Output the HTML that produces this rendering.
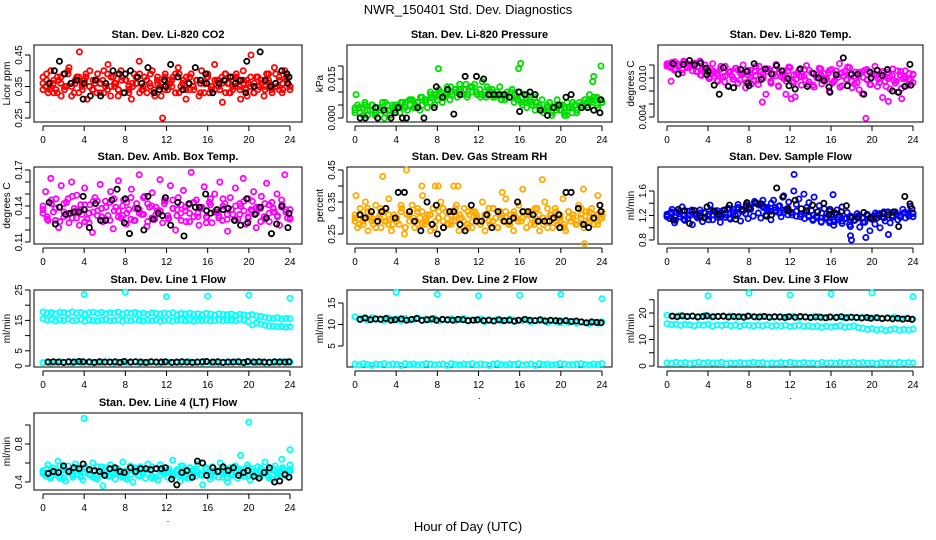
<!DOCTYPE html>
<html><head><meta charset="utf-8"><style>
html,body{margin:0;padding:0;background:#fff;}
svg{display:block;font-family:"Liberation Sans",Arial,sans-serif;}
</style></head><body>
<svg id="chart" width="936" height="540" viewBox="0 0 936 540" xmlns="http://www.w3.org/2000/svg">
<rect x="0" y="0" width="936" height="540" fill="#fff"/>
<text x="468" y="14" text-anchor="middle" font-size="13">NWR_150401  Std. Dev. Diagnostics</text>
<text x="468" y="531" text-anchor="middle" font-size="13">Hour of Day (UTC)</text>
</svg>
<script>
// ---------- data ----------
const xTicks = [0,4,8,12,16,20,24];
const co2Vals = [.38,.35,.33,.40,.36,.34,.37,.32,.39,.35,.41,.36,.33,.38,.46,.35,.37,.31,.40,.34,.36,.39,.33,.37,.35,.42,.32,.38,.36,.34,.40,.33,.37,.35,.31,.39,.36,.43,.34,.38,.33,.36,.40,.32,.37,.35,.25,.39,.34,.36,.38,.33,.41,.35,.37,.31,.36,.39,.34,.37,.32,.40,.36,.38,.33,.35,.42,.37,.34,.30,.39,.36,.33,.38,.35,.37,.31,.40,.34,.36,.45,.33,.38,.35,.37,.32,.39,.36,.34,.41,.35,.37,.33,.40,.36,.34];
const co2ValsB = [.36,.39,.34,.37,.33,.38,.35,.40,.32,.36,.38,.34,.39,.35,.37,.33,.36,.40,.34,.38,.35,.32,.37,.39,.34,.36,.38,.33,.35,.37,.39,.34,.36,.32,.38,.35,.37,.33,.39,.36,.34,.38,.35,.37,.33,.36,.39,.34,.37,.35,.38,.33,.36,.34,.39,.35,.37,.32,.38,.36,.34,.37,.35,.39,.33,.36,.38,.34,.37,.35];
const co2ValsC = [.34,.37,.35,.33,.38,.36,.34,.39,.35,.37,.33,.36,.38,.35,.34,.37,.36,.33,.39,.35,.36,.34,.38,.37,.33,.35,.36,.39,.34,.37,.35,.33,.38,.36,.34,.37,.35,.39,.33,.36,.38,.34,.35,.37,.36,.33,.38,.35,.34,.37,.36,.39,.33,.35,.38,.34,.36,.37,.35,.33,.38,.36,.34,.37,.35,.39,.34,.36,.38,.35];
const co2BlkHrs = [.6,1.1,1.6,2.1,2.7,3.3,3.9,4,4.6,5.1,5.6,6.1,6.8,7.4,7.9,8,8.5,9.2,9.6,10.2,10.8,11.3,11.8,11.9,12.4,13.1,13.6,14.2,14.8,15.3,15.8,15.9,16.5,17.1,17.6,18.2,18.7,19.2,19.7,19.8,20.5,21.1,21.6,22.1,22.6,23.2,23.7,23.8,23.9];
const co2BlkVals = [.36,.40,.43,.39,.36,.37,.31,.36,.32,.37,.32,.36,.40,.39,.33,.39,.40,.38,.36,.41,.33,.34,.37,.35,.42,.38,.34,.36,.41,.37,.39,.36,.33,.36,.37,.38,.36,.37,.33,.43,.35,.46,.37,.35,.36,.40,.39,.36,.38];

const pressVals = [.003,.005,.002,.004,.006,.001,.003,.005,.002,.004,.003,.006,.002,.005,.001,.004,.003,.005,.002,.006,.004,.003,.005,.007,.004,.006,.003,.005,.007,.004,.006,.008,.005,.007,.009,.006,.008,.010,.007,.009,.011,.008,.010,.009,.011,.008,.012,.010,.013,.009,.011,.014,.010,.012,.009,.011,.008,.010,.012,.009,.007,.010,.008,.011,.009,.007,.010,.008,.006,.009,.007,.005,.008,.006,.004,.007,.003,.005,.006,.002,.004,.007,.003,.005,.001,.006,.004,.002,.005,.003,.006,.004,.007,.005,.009,.006,.008,.005,.007,.006];
const pressValsB = [.002,.004,.001,.003,.005,.002,.004,.000,.003,.005,.004,.006,.005,.007,.004,.006,.008,.007,.010,.009,.011,.008,.012,.010,.011,.013,.011,.009,.012,.010,.008,.009,.011,.008,.010,.007,.009,.008,.006,.007,.005,.004,.006,.003,.005,.002,.004,.001,.003,.005,.002,.004,.006,.003,.005,.007,.006,.008,.004,.006];
const pressValsC = [.004,.002,.005,.003,.001,.004,.006,.003,.005,.004,.006,.007,.005,.008,.006,.009,.008,.010,.009,.012,.010,.011,.013,.012,.010,.009,.008,.010,.009,.007,.008,.010,.008,.006,.007,.005,.006,.003,.004,.002,.005,.003,.001,.004,.002,.005,.006,.007,.008,.006];
const pressOutHrs = [0.1,8.1,15.9,16.1,23.9,10.2,23.1,23.2];
const pressOutVals = [.009,.019,.019,.021,.020,.013,.014,.016];
const pressBlkHrs = [.5,1,2,2.2,2.8,3.5,3.9,4.2,4.6,5,6.1,6.7,7.7,7.9,8.5,9,9.6,10.2,10.7,11.8,12.5,13,13.5,14,14.5,15,15.9,16,16.5,17,17.5,18,18.7,19.3,19.8,20.5,21,22,22.6,23.2,23.8,23.9];
const pressBlkVals = [0,0,.004,0,.003,0,.002,.004,0,0,.004,0,.004,.012,.008,.011,.0015,.009,.016,.016,.015,.009,.009,.009,.009,.008,.010,.0025,.009,.010,.009,.003,.001,.004,.005,.008,.009,.004,.004,.003,.002,.007];

const tempVals = [.0120,.0118,.0124,.0112,.0122,.0119,.0108,.0125,.0116,.0121,.0111,.0123,.0117,.0126,.0113,.0120,.0115,.0101,.0122,.0108,.0095,.0113,.0102,.0118,.0088,.0110,.0098,.0115,.0092,.0107,.0120,.0085,.0104,.0112,.0096,.0118,.0090,.0109,.0100,.0075,.0114,.0093,.0106,.0121,.0087,.0102,.0111,.0095,.0117,.0068,.0105,.0098,.0112,.0089,.0103,.0119,.0094,.0108,.0086,.0101,.0115,.0091,.0107,.0099,.0080,.0113,.0096,.0104,.0122,.0088,.0110,.0097,.0116,.0085,.0103,.0093,.0109,.0076,.0112,.0098,.0090,.0106,.0118,.0087,.0101,.0070,.0095,.0109,.0083,.0114,.0092,.0078,.0104,.0099,.0111,.0089,.0097,.0106];
const tempValsB = [.0122,.0116,.0125,.0119,.0113,.0123,.0117,.0121,.0110,.0104,.0115,.0099,.0111,.0106,.0118,.0094,.0109,.0102,.0115,.0097,.0107,.0112,.0091,.0104,.0118,.0100,.0110,.0095,.0113,.0088,.0106,.0101,.0116,.0093,.0108,.0103,.0097,.0112,.0089,.0105,.0114,.0099,.0108,.0092,.0111,.0086,.0103,.0117,.0095,.0109,.0082,.0101,.0113,.0090,.0106,.0098,.0110,.0087,.0102,.0096,.0111,.0084,.0099,.0107,.0093];
const tempValsC = [.0118,.0123,.0114,.0120,.0126,.0117,.0122,.0110,.0105,.0112,.0100,.0108,.0096,.0114,.0103,.0109,.0098,.0112,.0105,.0093,.0101,.0110,.0097,.0106,.0114,.0092,.0103,.0108,.0099,.0111,.0095,.0105,.0102,.0113,.0090,.0107,.0100,.0104,.0096,.0112,.0094,.0101,.0108,.0098,.0105,.0091,.0103,.0110,.0097,.0100,.0106,.0093,.0108,.0099,.0104,.0095,.0110,.0102,.0098,.0105];
const tempOutHrs = [19.4,9.3,0.4,12.5,11.6,21.6,22.9];
const tempOutVals = [.0038,.0063,.0095,.0071,.0075,.0064,.0068];
const tempBlkHrs = [.6,1.1,1.6,2.2,2.7,3.3,3.8,3.9,4,4.6,5.1,5.5,6,6.5,7.2,7.8,7.9,8,8.5,9.2,9.6,10.2,10.7,11.2,11.8,11.9,12.5,13,13.7,14.3,14.8,15.3,15.8,15.9,16.5,17.2,17.6,18,18.6,19.2,19.8,19.9,20.5,21,21.5,22,22.6,23.2,23.7,23.8];
const tempBlkVals = [.0122,.0106,.0121,.0127,.0120,.0123,.0115,.0105,.0110,.0089,.0075,.0116,.0087,.0085,.0113,.0110,.0092,.0088,.0122,.0098,.0114,.0106,.0119,.0111,.0099,.0088,.0083,.0114,.0087,.0107,.0100,.0096,.0086,.0078,.0105,.0131,.0088,.0106,.0106,.0075,.0109,.0100,.0112,.0104,.0113,.0080,.0078,.0087,.0121,.0089];

const ambVals = [.140,.152,.128,.163,.135,.146,.122,.157,.131,.143,.126,.160,.138,.149,.124,.133,.155,.129,.141,.118,.147,.136,.158,.127,.144,.132,.152,.121,.139,.161,.130,.145,.125,.137,.154,.128,.142,.166,.133,.148,.123,.139,.151,.129,.136,.162,.126,.144,.132,.157,.138,.120,.147,.134,.153,.127,.141,.168,.131,.145,.124,.138,.156,.130,.143,.126,.150,.135,.160,.128,.142,.119,.147,.133,.155,.129,.140,.163,.125,.146,.137,.152,.122,.139,.148,.131,.159,.127,.143,.135,.150,.124,.141,.166,.130,.137];
const ambValsB = [.134,.129,.145,.138,.127,.142,.133,.148,.130,.137,.141,.126,.135,.144,.131,.139,.128,.146,.136,.132,.143,.129,.138,.134,.147,.127,.140,.133,.136,.142,.130,.145,.137,.128,.139,.134,.143,.131,.138,.126,.141,.135,.132,.146,.129,.137,.140,.133,.144,.130,.136,.139,.127,.142,.134,.138,.131,.145,.135,.129];
const ambValsC = [.137,.131,.142,.128,.139,.135,.146,.130,.136,.141,.127,.134,.144,.132,.138,.129,.143,.136,.131,.140,.134,.147,.128,.137,.133,.142,.130,.139,.135,.145,.129,.138,.132,.141,.136,.127,.143,.134,.139,.131,.146,.135,.130,.140,.133,.137,.128,.142,.136,.131,.144,.134,.138,.129,.141,.135,.132,.139,.137,.130];
const ambBlkHrs = [.6,1.2,1.6,2.2,2.6,3,3.5,3.9,4,4.5,5.1,5.6,6.1,6.7,7.2,7.9,8,8.4,9.2,9.8,10.2,10.7,11.2,11.6,11.9,12.4,13.1,13.7,14.2,14.8,15.2,15.8,15.9,16.3,16.9,17.5,18,18.6,19.2,19.8,19.9,20.6,21.1,21.7,22.2,22.7,23.2,23.8,23.9];
const ambBlkVals = [.143,.125,.139,.133,.134,.135,.135,.148,.137,.122,.142,.128,.128,.145,.154,.126,.146,.117,.138,.120,.148,.129,.134,.132,.147,.124,.143,.115,.142,.139,.139,.150,.136,.134,.137,.137,.138,.128,.124,.146,.126,.133,.139,.130,.117,.125,.140,.122,.134];

const rhVals = [.30,.27,.33,.29,.35,.26,.31,.28,.34,.30,.27,.32,.29,.36,.26,.31,.30,.28,.33,.25,.31,.29,.34,.27,.32,.30,.37,.28,.31,.26,.33,.29,.30,.35,.27,.32,.28,.31,.29,.34,.26,.30,.33,.28,.31,.27,.32,.30,.29,.35,.26,.31,.28,.33,.30,.27,.32,.29,.36,.28,.31,.26,.30,.34,.29,.32,.27,.31,.30,.28,.33,.26,.30,.35,.29,.31,.27,.33,.28,.30,.36,.26,.32,.29,.31,.28,.34,.30,.27,.32,.29,.33,.28,.31,.30,.32];
const rhValsB = [.29,.31,.28,.32,.30,.27,.33,.29,.31,.28,.30,.32,.27,.31,.29,.33,.28,.30,.31,.27,.32,.29,.30,.28,.33,.31,.29,.27,.32,.30,.28,.31,.29,.33,.27,.30,.32,.28,.31,.29,.30,.27,.32,.29,.31,.28,.33,.30,.29,.31,.27,.32,.30,.28,.31,.29,.32,.30,.28,.31];
const rhValsC = [.31,.28,.30,.33,.29,.27,.31,.32,.28,.30,.29,.34,.27,.31,.30,.28,.32,.29,.31,.27,.30,.33,.28,.29,.31,.30,.27,.32,.29,.31,.28,.30,.33,.29,.27,.31,.30,.28,.32,.29,.30,.31,.28,.33,.29,.30,.27,.31,.32,.29,.28,.30,.31,.29,.33,.28,.30,.31,.29,.30];
const rhOutHrs = [0.1,2.7,5,6.5,7.8,8.1,9.6,10,14.3,16.3,18.2,22.2,23.6,22.3];
const rhOutVals = [.37,.43,.45,.40,.40,.40,.40,.40,.38,.39,.42,.39,.37,.22];
const rhBlkHrs = [.5,1,1.6,2.2,2.6,3,3.9,4.2,4.8,5.3,5.8,6.4,7,7.5,7.9,8,8.6,9.2,9.6,10.2,10.7,11.3,11.8,12.3,12.8,13.3,13.9,14.5,15,15.4,15.8,16.3,16.8,17.3,17.8,18.4,18.9,19.3,19.8,19.9,20.5,21,21.7,22.2,22.7,23.2,23.8,23.9];
const rhBlkVals = [.31,.30,.32,.29,.32,.33,.30,.38,.38,.32,.29,.26,.35,.28,.34,.25,.27,.32,.32,.28,.26,.34,.29,.29,.31,.27,.32,.29,.29,.30,.35,.32,.32,.31,.29,.29,.29,.30,.31,.27,.38,.38,.33,.28,.27,.30,.34,.32];

const sfVals = [1.22,1.15,1.30,1.08,1.25,1.18,1.34,1.12,1.27,1.20,1.05,1.23,1.16,1.29,1.10,1.24,1.19,1.37,1.13,1.26,1.21,1.09,1.28,1.17,1.32,1.14,1.25,1.20,1.38,1.11,1.27,1.23,1.15,1.30,1.19,1.40,1.24,1.16,1.33,1.21,1.28,1.13,1.45,1.26,1.35,1.18,1.52,1.30,1.42,1.25,1.60,1.38,1.47,1.22,1.55,1.33,1.41,1.28,1.50,1.19,1.36,1.24,1.31,1.17,1.27,1.22,1.10,1.29,1.20,1.34,1.15,1.25,1.05,1.18,1.12,1.23,1.01,1.16,1.09,1.20,0.95,1.14,1.06,1.22,1.00,1.17,1.11,1.25,1.08,1.19,1.26,1.13,1.21,1.30,1.16,1.24,1.35,1.18];
const sfValsB = [1.18,1.24,1.12,1.27,1.20,1.15,1.29,1.22,1.17,1.25,1.13,1.21,1.28,1.19,1.24,1.16,1.30,1.22,1.27,1.35,1.31,1.42,1.37,1.45,1.33,1.40,1.29,1.36,1.25,1.32,1.21,1.27,1.18,1.24,1.20,1.14,1.19,1.09,1.16,1.11,1.04,1.13,1.07,1.15,1.02,1.12,1.18,1.09,1.21,1.14,1.19,1.23,1.16,1.26,1.20,1.22,1.17,1.25,1.19,1.23];
const sfValsC = [1.20,1.26,1.17,1.23,1.14,1.21,1.27,1.19,1.24,1.16,1.22,1.28,1.18,1.25,1.21,1.31,1.26,1.33,1.28,1.38,1.34,1.43,1.39,1.36,1.30,1.27,1.33,1.24,1.29,1.21,1.25,1.19,1.22,1.15,1.18,1.12,1.16,1.10,1.14,1.08,1.13,1.17,1.11,1.15,1.19,1.13,1.20,1.16,1.22,1.18,1.24,1.20,1.26,1.21,1.17,1.23,1.19,1.25,1.21,1.24];
const sfOutHrs = [12.4,16.2,17.9,18,19.4,21.6];
const sfOutVals = [1.87,1.54,0.87,0.80,0.84,0.89];
const sfBlkHrs = [.6,1.1,1.7,2.2,2.7,3.2,3.7,3.9,4.6,5.1,5.6,6.1,6.7,7.3,7.8,8,8.7,9.2,9.7,10.2,10.7,11.3,11.8,11.9,12.5,13.1,13.6,14.2,14.7,15.3,15.8,15.9,16.4,17,17.5,18,18.6,19.2,19.8,19.9,20.5,21.1,21.6,22.1,22.6,23.2,23.7,23.9];
const sfBlkVals = [1.13,1.30,1.28,1.07,1.28,1.19,1.17,1.34,1.27,1.21,1.29,1.37,1.14,1.30,1.41,1.31,1.40,1.39,1.19,1.21,1.65,1.50,1.30,1.27,1.45,1.31,1.28,1.37,1.26,1.40,1.22,1.30,1.24,1.26,1.36,1.16,1.16,1.25,1.16,1.16,1.16,1.23,1.21,1.26,1.02,1.51,1.39,1.31];

const lineBlkHrs = [0.5,1,1.5,2,2.5,3,3.5,3.9,4.5,5,5.5,6,6.5,7,7.5,7.9,8.5,9,9.5,10,10.5,11,11.5,11.9,12.5,13,13.5,14,14.5,15,15.5,15.9,16.5,17,17.5,18,18.5,19,19.5,19.9,20.5,21,21.5,22,22.5,23,23.5,23.9];
const outHrs = [4,8,12,16,20,24];

const l1Up = [17.8,17.4,17.6,17.2,17.7,17.5,17.3,17.8,17.4,17.6,17.1,17.5,17.7,17.3,17.6,17.2,17.5,17.4,17.7,17.1,17.5,17.3,17.6,17.2,17.4,17.0,17.5,17.3,17.1,17.4,17.2,17.5,16.9,17.3,17.1,17.4,17.0,17.2,16.9,17.3,17.1,16.8,17.2,17.0,16.9,17.1,16.7,17.0,16.8,16.6,16.9,16.5,16.3,16.0,15.8,15.6,15.9,15.5,15.7,15.6];
const l1Mid = [15.5,15.1,15.3,14.8,15.2,15.0,15.4,14.9,15.1,15.3,14.7,15.2,15.0,14.8,15.1,15.3,14.9,15.0,15.2,14.7,15.1,14.9,15.3,15.0,14.8,15.1,14.9,15.2,14.7,15.0,15.1,14.8,15.0,15.2,14.9,15.1,14.7,15.0,14.9,15.1,14.8,15.0,15.2,14.9,15.1,15.0,14.8,15.4,15.1,14.6,13.5,14.2,13.8,13.4,13.2,13.1,12.9,13.0,12.8,12.9];
const l1Low = [1.1,1.3,1.0,1.2,1.4,1.1,1.2,1.0,1.3,1.1,1.2,1.4,1.0,1.2,1.1,1.3,1.2,1.0,1.1,1.3,1.2,1.1,1.4,1.0,1.2,1.1,1.3,1.2,1.0,1.1,1.3,1.2,1.1,1.0,1.2,1.4,1.1,1.2,1.0,1.3,1.1,1.2,1.0,1.1,1.3,1.2,1.4,1.1,1.0,1.2,1.3,1.1,1.2,1.0,1.3,1.1,1.2,1.4,1.1,1.2];
const l1BlkVals = [1.3,1.4,1.3,1.2,1.4,1.3,1.5,1.4,1.3,1.2,1.4,1.3,1.3,1.4,1.2,1.5,1.3,1.4,1.3,1.2,1.4,1.3,1.3,1.4,1.2,1.3,1.4,1.3,1.2,1.3,1.4,1.5,1.3,1.4,1.2,1.3,1.3,1.4,1.2,1.5,1.3,1.4,1.3,1.2,1.4,1.3,1.3,1.4];
const l1OutVals = [23.5,24.3,22.8,23.0,23.3,22.3];

const l2Low = [0.8,0.6,0.9,0.7,0.5,0.8,0.7,0.9,0.6,0.8,0.7,0.5,0.9,0.7,0.8,0.6,0.7,0.9,0.8,0.6,0.7,0.8,0.5,0.9,0.7,0.6,0.8,0.7,0.9,0.6,0.8,0.7,0.5,0.8,0.9,0.7,0.6,0.8,0.7,0.9,0.6,0.7,0.8,0.5,0.9,0.7,0.8,0.6,0.7,0.9,0.8,0.6,0.7,0.8,0.9,0.7,0.6,0.8,0.7,0.9];
const l2Up = [11.8,11.3,11.5,11.0,11.6,11.2,11.4,10.9,11.5,11.1,11.3,10.8,11.4,11.0,11.2,11.5,10.9,11.3,11.1,11.4,10.8,11.2,11.0,11.3,10.9,11.2,11.4,10.8,11.1,11.0,11.3,10.7,11.1,10.9,11.2,10.8,11.0,11.3,10.7,11.0,10.9,11.1,10.6,10.9,10.8,11.0,10.5,10.8,10.7,10.4,10.8,10.5,10.7,10.3,10.6,10.4,10.2,10.5,10.3,10.6];
const l2BlkVals = [11.2,11.5,11.1,11.3,11.2,11.4,11.0,11.1,11.3,11.0,11.2,11.4,11.0,11.1,11.3,11.0,11.2,11.1,11.0,11.2,11.1,10.9,11.0,11.1,10.9,11.0,10.8,11.1,10.9,11.0,10.8,11.0,11.2,11.0,10.9,11.1,10.8,11.0,10.9,10.8,10.9,10.7,10.8,10.6,10.4,10.6,10.5,10.4];
const l2OutVals = [17.5,17.0,16.7,16.8,17.0,16.0];

const l3Top = [19.2,18.8,19.0,18.6,18.9,18.7,19.1,18.5,18.8,18.6,18.9,18.4,18.7,18.9,18.5,18.8,18.6,18.4,18.7,18.5,18.8,18.3,18.6,18.5,18.7,18.2,18.5,18.6,18.3,18.5,18.2,18.4,18.1,18.3,18.0,18.2,18.4,17.9,18.1,17.8];
const l3Mid = [16.0,15.6,15.8,15.3,15.7,15.5,15.2,15.6,15.4,15.7,15.1,15.5,15.3,15.6,15.2,15.4,15.0,15.5,15.3,15.1,15.4,15.2,15.5,15.0,15.3,15.1,15.4,14.9,15.2,15.3,15.0,15.2,14.8,15.1,14.6,15.0,14.7,14.9,15.2,14.6,14.8,15.1,14.5,14.3,13.8,14.1,13.6,13.9,13.4,13.7,14.0,13.5,13.8,13.6,13.9];
const l3Low = [1.2,1.0,1.4,1.1,1.3,0.9,1.2,1.4,1.0,1.3,1.1,1.2,1.4,0.9,1.2,1.1,1.3,1.0,1.2,1.4,1.1,1.3,0.9,1.2,1.0,1.3,1.1,1.4,1.2,1.0,1.3,1.1,1.2,0.9,1.4,1.1,1.2,1.0,1.3,1.1,1.2,1.4,1.0,1.3,1.1,1.2,0.9,1.3,1.1,1.2,1.0,1.4,1.1,1.3,1.2];
const l3BlkVals = [18.8,18.6,18.9,18.7,18.8,18.5,18.7,18.9,18.6,18.7,18.8,18.5,18.7,18.6,18.4,18.8,18.6,18.5,18.7,18.4,18.6,18.5,18.3,18.6,18.4,18.7,18.5,18.3,18.5,18.4,18.2,18.5,18.3,18.6,18.2,18.4,18.3,18.1,18.3,18.0,18.2,17.9,18.1,17.8,18.0,17.7,17.9,17.6];
const l3OutVals = [26.5,27.5,26.8,27.2,27.6,26.2];

const l4Vals = [.52,.47,.58,.44,.55,.49,.62,.46,.53,.41,.57,.50,.45,.59,.48,.54,.42,.56,.51,.47,.60,.44,.52,.49,.36,.55,.46,.58,.50,.43,.54,.48,.61,.45,.51,.57,.40,.53,.47,.56,.49,.44,.59,.52,.46,.54,.42,.58,.50,.55,.45,.51,.63,.47,.53,.41,.57,.49,.44,.55,.52,.46,.59,.48,.37,.54,.50,.43,.56,.47,.52,.60,.45,.51,.40,.55,.48,.57,.44,.53,.50,.46,.58,.42,.54,.49,.56,.45,.51,.61,.47,.53,.43,.57,.50,.46,.55,.48,.52,.58];
const l4ValsB = [.49,.54,.46,.51,.57,.44,.52,.48,.55,.47,.50,.53,.45,.56,.49,.52,.46,.54,.48,.51,.43,.55,.50,.47,.53,.49,.56,.45,.52,.48,.54,.46,.51,.57,.49,.44,.53,.50,.47,.55,.48,.52,.45,.54,.50,.47,.56,.49,.53,.46,.51,.48,.55,.50,.44,.52,.47,.54,.49,.51];
const l4ValsC = [.51,.46,.53,.49,.44,.55,.50,.47,.52,.45,.54,.48,.51,.43,.56,.49,.47,.53,.50,.45,.52,.48,.55,.46,.51,.49,.44,.54,.47,.52,.50,.46,.53,.48,.45,.55,.49,.51,.47,.54,.46,.50,.52,.48,.44,.53,.49,.51,.46,.55,.48,.50,.47,.52,.45,.54,.49,.51,.47,.53];
const l4BlkVals = [.49,.51,.50,.57,.51,.55,.54,.59,.53,.52,.51,.47,.54,.55,.51,.50,.55,.51,.54,.54,.53,.54,.54,.55,.43,.37,.50,.52,.45,.62,.60,.47,.55,.51,.56,.52,.55,.47,.50,.52,.46,.44,.50,.55,.40,.41,.48,.45];
const l4OutHrs = [4,12,20,24,19.2,23.2];
const l4OutVals = [1.07,1.18,1.03,0.74,0.68,0.64];

// ---------- drawing ----------
const NS = 'http://www.w3.org/2000/svg';
const svg = document.getElementById('chart');
function mk(tag, attrs, parent){ const e=document.createElementNS(NS,tag); for(const k in attrs) e.setAttribute(k,attrs[k]); (parent||svg).appendChild(e); return e; }
function evenHours(vals){ return vals.map((v,i)=> i*24/(vals.length-1)); }

const cols = [{bl:34,br:302,x0:43,x24:290},{bl:347,br:612,x0:355,x24:602},{bl:658,br:923,x0:667,x24:913}];
const rows = [45,167,290,413];
const BH = 77;

function panel(p){
  const c = cols[p.col], top = rows[p.row], bot = top+BH;
  const g = mk('g',{});
  
  
  const sx = h => c.x0 + h*(c.x24-c.x0)/24;
  const sy = v => p.py1 + (v-p.v1)*(p.py2-p.py1)/(p.v2-p.v1);
  const t = mk('text',{x:(c.bl+c.br)/2,y:top-7,'text-anchor':'middle','font-size':'11','font-weight':'bold'},g);
  
  
  t.textContent = p.title;
  const box = mk('rect',{x:c.bl,y:top,width:c.br-c.bl,height:BH,fill:'none',stroke:'#000','stroke-width':1},g);
  
  
  const xa = mk('g',{},g);
  
  
  mk('line',{x1:sx(0),x2:sx(24),y1:bot+4,y2:bot+4,stroke:'#000'},xa);
  xTicks.forEach(h=>{
    mk('line',{x1:sx(h),x2:sx(h),y1:bot+4,y2:bot+9,stroke:'#000'},xa);
    const tl = mk('text',{x:sx(h),y:bot+21,'text-anchor':'middle','font-size':'10'},xa);
    
    
    tl.textContent = String(h);
  });
  const dot = mk('text',{x:(c.bl+c.br)/2,y:bot+32,'text-anchor':'middle','font-size':'9'},xa);
  dot.textContent='.';
  const ya = mk('g',{},g);
  
  
  const ax = c.bl-4;
  mk('line',{x1:ax,x2:ax,y1:sy(p.ticks[0]),y2:sy(p.ticks[p.ticks.length-1]),stroke:'#000'},ya);
  p.ticks.forEach((v,i)=>{
    const y = sy(v);
    mk('line',{x1:ax-5,x2:ax,y1:y,y2:y,stroke:'#000'},ya);
    if(p.labels[i]){
      const tl = mk('text',{x:0,y:0,'text-anchor':'middle','font-size':'10',transform:`translate(${ax-8},${y}) rotate(-90)`},ya);
      
      
      tl.textContent = p.labels[i];
    }
  });
  const yl = mk('text',{x:0,y:0,'text-anchor':'middle','font-size':'10',transform:`translate(${c.bl-24},${(top+bot)/2}) rotate(-90)`},ya);
  
  
  yl.textContent = p.ylab;
  const pts = mk('g',{},g);
  
  
  p.series.forEach(s=>{
    s.vals.forEach((v,i)=>{
      const y = sy(v); if(y<top-2||y>bot+2) return;
      const ci = mk('circle',{cx:sx(s.hrs[i]),cy:y,r:2.6,fill:'none',stroke:s.color,'stroke-width':1.8},pts);
      
      
    });
  });
}

function ser(vals,hrs,color,kind){ return {vals:vals,hrs:hrs||evenHours(vals),color:color,kind:kind}; }

const panels = [
 {name:'co2',col:0,row:0,title:'Stan. Dev. Li-820 CO2',ylab:'Licor ppm',v1:.25,py1:118,v2:.45,py2:55,ticks:[.25,.30,.35,.40,.45],labels:['0.25','','0.35','','0.45'],
  series:[ser(co2Vals,null,'#ff0000','co2'),ser(co2ValsB,null,'#ff0000','co2'),ser(co2ValsC,null,'#ff0000','co2'),ser(co2BlkVals,co2BlkHrs,'#000','hourly-mean')]},
 {name:'pressure',col:1,row:0,title:'Stan. Dev. Li-820 Pressure',ylab:'kPa',v1:0,py1:118,v2:.015,py2:79,ticks:[0,.005,.010,.015,.020],labels:['0.000','','','0.015',''],
  series:[ser(pressVals,null,'#00dd00','pressure'),ser(pressValsB,null,'#00dd00','pressure'),ser(pressValsC,null,'#00dd00','pressure'),ser(pressOutVals,pressOutHrs,'#00dd00','pressure'),ser(pressBlkVals,pressBlkHrs,'#000','hourly-mean')]},
 {name:'temp',col:2,row:0,title:'Stan. Dev. Li-820 Temp.',ylab:'degrees C',v1:.004,py1:117,v2:.010,py2:78,ticks:[.004,.006,.008,.010,.012],labels:['0.004','','','0.010',''],
  series:[ser(tempVals,null,'#ff00ff','temp'),ser(tempValsB,null,'#ff00ff','temp'),ser(tempValsC,null,'#ff00ff','temp'),ser(tempOutVals,tempOutHrs,'#ff00ff','temp'),ser(tempBlkVals,tempBlkHrs,'#000','hourly-mean')]},
 {name:'amb-box-temp',col:0,row:1,title:'Stan. Dev. Amb. Box Temp.',ylab:'degrees C',v1:.11,py1:242,v2:.17,py2:170,ticks:[.11,.12,.13,.14,.15,.16,.17],labels:['0.11','','','0.14','','','0.17'],
  series:[ser(ambVals,null,'#ff00ff','amb'),ser(ambValsB,null,'#ff00ff','amb'),ser(ambValsC,null,'#ff00ff','amb'),ser(ambBlkVals,ambBlkHrs,'#000','hourly-mean')]},
 {name:'gas-rh',col:1,row:1,title:'Stan. Dev. Gas Stream RH',ylab:'percent',v1:.25,py1:234,v2:.45,py2:170,ticks:[.25,.30,.35,.40,.45],labels:['0.25','','0.35','','0.45'],
  series:[ser(rhVals,null,'#ffaa00','rh'),ser(rhValsB,null,'#ffaa00','rh'),ser(rhValsC,null,'#ffaa00','rh'),ser(rhOutVals,rhOutHrs,'#ffaa00','rh'),ser(rhBlkVals,rhBlkHrs,'#000','hourly-mean')]},
 {name:'sample-flow',col:2,row:1,title:'Stan. Dev. Sample Flow',ylab:'ml/min',v1:.8,py1:240,v2:1.6,py2:191,ticks:[.8,1.0,1.2,1.4,1.6],labels:['0.8','','1.2','','1.6'],
  series:[ser(sfVals,null,'#0000ff','flow'),ser(sfValsB,null,'#0000ff','flow'),ser(sfValsC,null,'#0000ff','flow'),ser(sfOutVals,sfOutHrs,'#0000ff','flow'),ser(sfBlkVals,sfBlkHrs,'#000','hourly-mean')]},
 {name:'line1-flow',col:0,row:2,title:'Stan. Dev. Line 1 Flow',ylab:'ml/min',v1:0,py1:366,v2:25,py2:290,ticks:[0,5,10,15,20,25],labels:['0','5','','15','','25'],
  series:[ser(l1Up,null,'#00ffff','flow'),ser(l1Mid,null,'#00ffff','flow'),ser(l1Low,null,'#00ffff','flow'),ser(l1OutVals,outHrs,'#00ffff','flow'),ser(l1BlkVals,lineBlkHrs,'#000','hourly-mean')]},
 {name:'line2-flow',col:1,row:2,title:'Stan. Dev. Line 2 Flow',ylab:'ml/min',v1:5,py1:346,v2:15,py2:303,ticks:[5,10,15],labels:['5','10','15'],
  series:[ser(l2Low,null,'#00ffff','flow'),ser(l2Up,null,'#00ffff','flow'),ser(l2OutVals,outHrs,'#00ffff','flow'),ser(l2BlkVals,lineBlkHrs,'#000','hourly-mean')]},
 {name:'line3-flow',col:2,row:2,title:'Stan. Dev. Line 3 Flow',ylab:'ml/min',v1:0,py1:366,v2:20,py2:313,ticks:[0,5,10,15,20,25],labels:['0','','10','','20',''],
  series:[ser(l3Top,null,'#00ffff','flow'),ser(l3Mid,null,'#00ffff','flow'),ser(l3Low,null,'#00ffff','flow'),ser(l3OutVals,outHrs,'#00ffff','flow'),ser(l3BlkVals,lineBlkHrs,'#000','hourly-mean')]},
 {name:'line4-flow',col:0,row:3,title:'Stan. Dev. Line 4 (LT) Flow',ylab:'ml/min',v1:.4,py1:482,v2:.8,py2:444,ticks:[.4,.6,.8,1.0],labels:['0.4','','0.8',''],
  series:[ser(l4Vals,null,'#00ffff','flow'),ser(l4ValsB,null,'#00ffff','flow'),ser(l4ValsC,null,'#00ffff','flow'),ser(l4OutVals,l4OutHrs,'#00ffff','flow'),ser(l4BlkVals,lineBlkHrs,'#000','hourly-mean')]}
];
panels.forEach(panel);
</script>
</body></html>
